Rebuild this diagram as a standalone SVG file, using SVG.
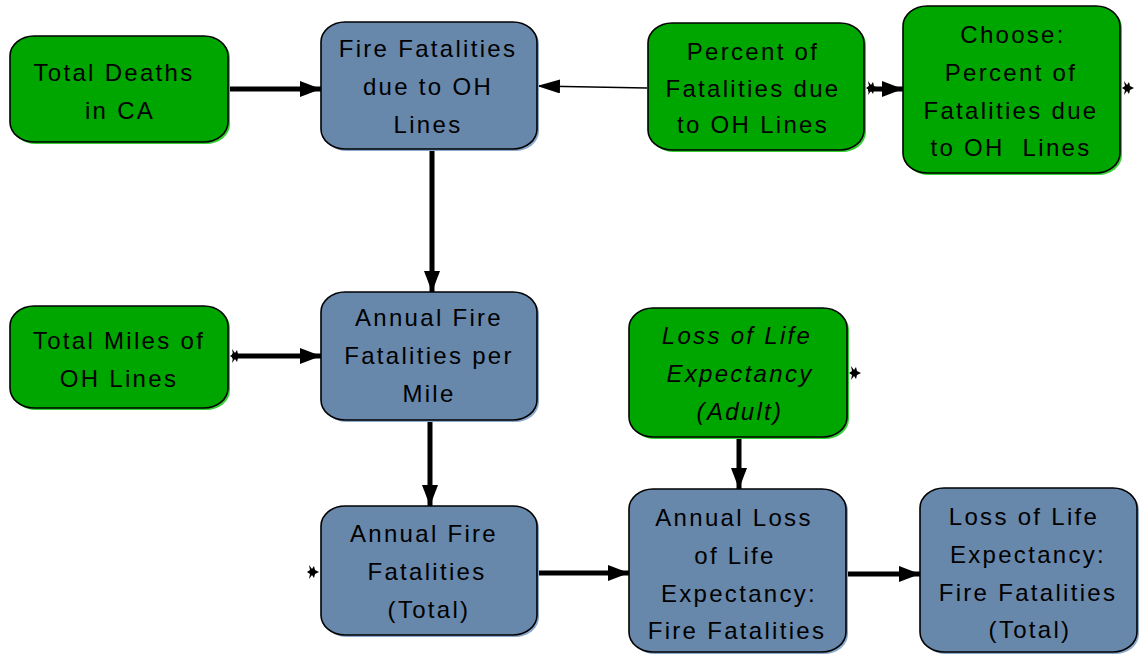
<svg xmlns="http://www.w3.org/2000/svg" width="1140" height="656" viewBox="0 0 1140 656">
<style>
.g{fill:#00a600;stroke:#000;stroke-width:1.6}
.gs{fill:#2fd02f}
.b{fill:#6787ab;stroke:#000;stroke-width:1.6}
.bs{fill:#8aa8cc}
text{font-family:"Liberation Sans",Arial,sans-serif;font-size:24px;letter-spacing:2.3px;fill:#000;text-anchor:middle}
.it{font-style:italic}
.c{fill:none;stroke:#000;stroke-width:5}
.t{fill:none;stroke:#000;stroke-width:1.4}
</style>
<defs>
<marker id="ah" markerUnits="userSpaceOnUse" markerWidth="21" markerHeight="16" refX="21" refY="8" orient="auto">
<path d="M0,0 L21,8 L0,16 z" fill="#000"/>
</marker>
<marker id="at" markerUnits="userSpaceOnUse" markerWidth="23" markerHeight="14" refX="23" refY="7" orient="auto">
<path d="M0,0 L23,7 L0,14 z" fill="#000"/>
</marker>
<path id="star" d="M-3,-7 L0,-3 L2,-6 L3,-2 L7,0 L3,2 L2,6 L0,3 L-3,7 L-2,2 L-5,0 L-2,-2 z" fill="#000"/>
</defs>
<g id="connectors">
<line class="c" x1="230" y1="89" x2="321" y2="89" marker-end="url(#ah)"/>
<line class="t" x1="647" y1="88" x2="537" y2="86" marker-end="url(#at)"/>
<line class="c" x1="868" y1="89" x2="903" y2="89" marker-end="url(#ah)"/>
<line class="c" x1="432" y1="149" x2="432" y2="292" marker-end="url(#ah)"/>
<line class="c" x1="232" y1="356" x2="321" y2="356" marker-end="url(#ah)"/>
<line class="c" x1="430" y1="420" x2="430" y2="506" marker-end="url(#ah)"/>
<line class="c" x1="537" y1="573" x2="629" y2="573" marker-end="url(#ah)"/>
<line class="c" x1="739" y1="437" x2="739" y2="489" marker-end="url(#ah)"/>
<line class="c" x1="846" y1="574" x2="920" y2="574" marker-end="url(#ah)"/>
<use href="#star" x="871" y="88"/>
<use href="#star" x="1127" y="88"/>
<use href="#star" x="235" y="356"/>
<use href="#star" x="854" y="373"/>
<use href="#star" x="312" y="572"/>
</g>
<g id="n-total-deaths">
<rect class="gs" x="12" y="38" width="218" height="106" rx="24" ry="20"/>
<rect class="g" x="10" y="36" width="218" height="106" rx="24" ry="20"/>
<text x="114" y="81">Total Deaths</text>
<text x="120" y="119">in CA</text>
</g>
<g id="n-fire-fatalities">
<rect class="bs" x="323" y="24" width="216" height="127" rx="24" ry="20"/>
<rect class="b" x="321" y="22" width="216" height="127" rx="24" ry="20"/>
<text x="428" y="57">Fire Fatalities</text>
<text x="428" y="95">due to OH</text>
<text x="428" y="133">Lines</text>
</g>
<g id="n-percent">
<rect class="gs" x="650" y="25" width="216" height="127" rx="24" ry="20"/>
<rect class="g" x="648" y="23" width="216" height="127" rx="24" ry="20"/>
<text x="753" y="60">Percent of</text>
<text x="753" y="97">Fatalities due</text>
<text x="753" y="133">to OH Lines</text>
</g>
<g id="n-choose">
<rect class="gs" x="905" y="8" width="217" height="167" rx="24" ry="20"/>
<rect class="g" x="903" y="6" width="217" height="167" rx="24" ry="20"/>
<text x="1013" y="43">Choose:</text>
<text x="1011" y="81">Percent of</text>
<text x="1011" y="119">Fatalities due</text>
<text x="1011" y="156" xml:space="preserve">to OH  Lines</text>
</g>
<g id="n-total-miles">
<rect class="gs" x="12" y="308" width="218" height="102" rx="24" ry="20"/>
<rect class="g" x="10" y="306" width="218" height="102" rx="24" ry="20"/>
<text x="119" y="349">Total Miles of</text>
<text x="119" y="387">OH Lines</text>
</g>
<g id="n-per-mile">
<rect class="bs" x="323" y="294" width="216" height="128" rx="24" ry="20"/>
<rect class="b" x="321" y="292" width="216" height="128" rx="24" ry="20"/>
<text x="429" y="326">Annual Fire</text>
<text x="429" y="364">Fatalities per</text>
<text x="429" y="402">Mile</text>
</g>
<g id="n-lole-adult">
<rect class="gs" x="631" y="310" width="218" height="129" rx="24" ry="20"/>
<rect class="g" x="629" y="308" width="218" height="129" rx="24" ry="20"/>
<text class="it" x="737" y="344">Loss of Life</text>
<text class="it" x="740" y="382">Expectancy</text>
<text class="it" x="740" y="420">(Adult)</text>
</g>
<g id="n-annual-total">
<rect class="bs" x="323" y="508" width="216" height="129" rx="24" ry="20"/>
<rect class="b" x="321" y="506" width="216" height="129" rx="24" ry="20"/>
<text x="424" y="542">Annual Fire</text>
<text x="427" y="580">Fatalities</text>
<text x="429" y="618">(Total)</text>
</g>
<g id="n-annual-loss">
<rect class="bs" x="631" y="491" width="217" height="163" rx="24" ry="20"/>
<rect class="b" x="629" y="489" width="217" height="163" rx="24" ry="20"/>
<text x="734" y="526">Annual Loss</text>
<text x="735" y="564">of Life</text>
<text x="739" y="602">Expectancy:</text>
<text x="737" y="639">Fire Fatalities</text>
</g>
<g id="n-lole-total">
<rect class="bs" x="922" y="490" width="217" height="164" rx="24" ry="20"/>
<rect class="b" x="920" y="488" width="217" height="164" rx="24" ry="20"/>
<text x="1024" y="525">Loss of Life</text>
<text x="1028" y="563">Expectancy:</text>
<text x="1028" y="601">Fire Fatalities</text>
<text x="1030" y="638">(Total)</text>
</g>
</svg>
